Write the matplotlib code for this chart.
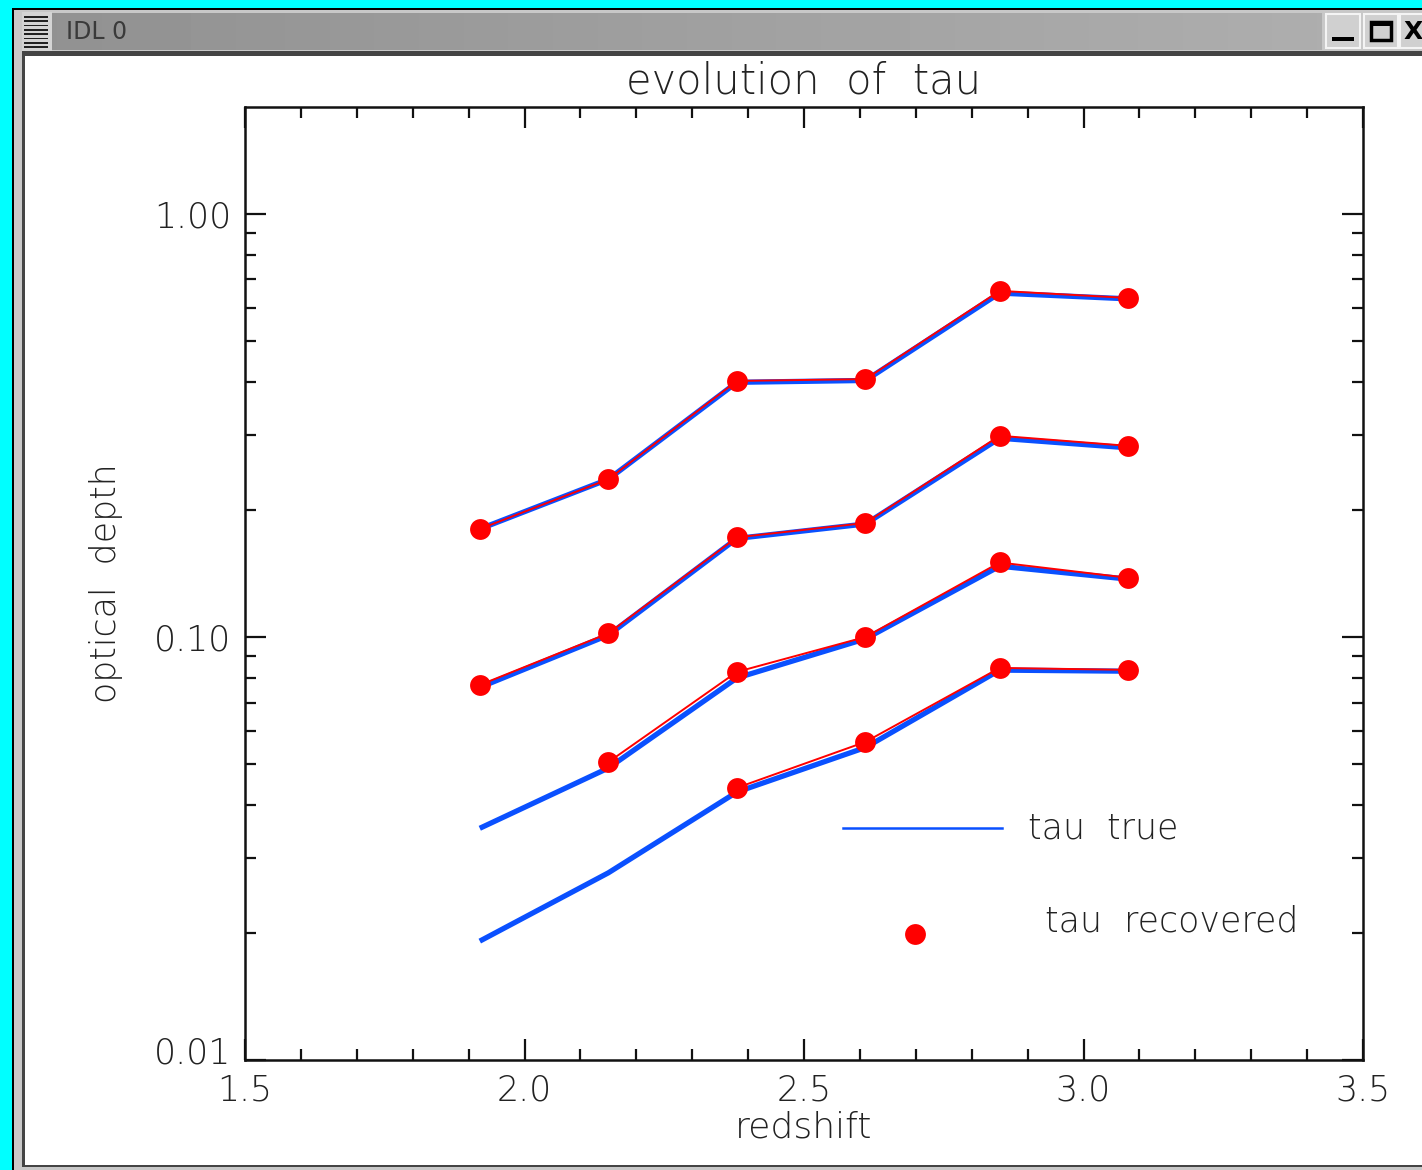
import numpy as np
import matplotlib.pyplot as plt
from matplotlib.patches import Rectangle
from matplotlib.ticker import FixedLocator, NullFormatter
from matplotlib.transforms import ScaledTranslation

# redshift bins
redshift = [1.92, 2.15, 2.38, 2.61, 2.85, 3.08]

# input optical depth per run
tau_true = [
    [0.180, 0.236, 0.400, 0.404, 0.650, 0.630],
    [0.076, 0.101, 0.171, 0.185, 0.295, 0.280],
    [0.0353, 0.0490, 0.0800, 0.0990, 0.147, 0.137],
    [0.0191, 0.0277, 0.0430, 0.0548, 0.0835, 0.0830],
]

# fitted optical depth (nan = no measurement)
tau_rec = [
    [0.180, 0.236, 0.403, 0.407, 0.658, 0.633],
    [0.077, 0.102, 0.172, 0.186, 0.299, 0.283],
    [np.nan, 0.0506, 0.0827, 0.100, 0.150, 0.138],
    [np.nan, np.nan, 0.0440, 0.0565, 0.0845, 0.0836],
]

plt.rcParams['font.family'] = ['DejaVu Sans']
plt.rcParams['font.weight'] = 'light'
plt.rcParams['axes.titleweight'] = 'light'
plt.rcParams['axes.labelweight'] = 'light'

W, H = 1422, 1170
fig = plt.figure(figsize=(W / 100, H / 100), dpi=100)
fig.patch.set_facecolor('#00ffff')

# window frame, drawn in pixel coords
bg = fig.add_axes([0, 0, 1, 1])
bg.set_xlim(0, W)
bg.set_ylim(H, 0)
bg.axis('off')

def box(x, y, w, h, fc, ec='none', lw=0, z=2):
    bg.add_patch(Rectangle((x, y), w, h, facecolor=fc, edgecolor=ec,
                           linewidth=lw, zorder=z))

box(12, 8, W - 12, H - 8, '#000000', z=1)
box(14, 10, W - 14, H - 10, '#c8c8c8', z=1.1)
# title bar
grad = np.linspace(0.57, 0.68, 256).reshape(1, -1)
bg.imshow(grad, extent=(52, 1322, 50, 13), cmap='gray', vmin=0, vmax=1,
          aspect='auto', zorder=1.5)
bg.set_xlim(0, W)
bg.set_ylim(H, 0)
box(22, 12, 30, 40, '#d4d4d4')
for k in range(8):
    box(24, 16 + k * 4.3, 24, 1.8, '#222222', z=3)
bg.text(66, 32, 'IDL 0', fontsize=17, color='#3a3a3a', va='center', ha='left',
        weight='normal', zorder=3)
box(22, 51, W - 22, 3, '#444444')
# window buttons
for bx in (1326, 1364, 1400):
    box(bx, 14, 34, 34, '#d0d0d0', '#f4f4f4', 1.5)
box(1332, 37, 22, 4, '#000000', z=3)
box(1371, 22, 20, 18, 'none', '#000000', 2.5, z=3)
box(1371, 22, 20, 4, '#000000', z=3)
bg.text(1404, 32, 'X', fontsize=18, color='#000000', va='center', ha='left',
        weight='bold', zorder=3)
# client area
box(22, 54, W - 22, 1113, '#444444')
box(25, 56, W - 25, 1109, '#ffffff')

ax = fig.add_axes([245 / W, 1 - 1060 / H, 1118 / W, 953 / H])
ax.set_facecolor('white')

for t, r in zip(tau_true, tau_rec):
    ax.plot(redshift, t, color='#0a50ff', lw=3.8, solid_capstyle='butt')
    ax.plot(redshift, r, color='#ff0000', lw=1.4, marker='o', ms=15,
            markeredgewidth=0)

ax.set_yscale('log')
ax.set_xlim(1.5, 3.5)
ax.set_ylim(0.01, 1.79)

ax.xaxis.set_major_locator(FixedLocator([1.5, 2.0, 2.5, 3.0, 3.5]))
ax.xaxis.set_minor_locator(FixedLocator(np.arange(1.6, 3.45, 0.1)))
ax.set_xticklabels(['1.5', '2.0', '2.5', '3.0', '3.5'])
ax.yaxis.set_major_locator(FixedLocator([0.01, 0.1, 1.0]))
ax.set_yticklabels(['0.01', '0.10', '1.00'])
minors = [m * d for d in (0.01, 0.1) for m in range(2, 10)]
ax.yaxis.set_minor_locator(FixedLocator(minors))
ax.yaxis.set_minor_formatter(NullFormatter())

ax.tick_params(which='both', direction='in', top=True, right=True,
               width=1.6, color='#111111', labelsize=25, labelcolor='#222222')
ax.tick_params(which='major', length=15, pad=10)
ax.tick_params(which='minor', length=8)
for s in ax.spines.values():
    s.set_linewidth(1.8)
    s.set_color('#111111')

# lowest y label sits a bit above the axis corner
low = ax.get_yticklabels()[0]
low.set_transform(low.get_transform() + ScaledTranslation(0, 10 / 100, fig.dpi_scale_trans))

ax.set_title('evolution  of  tau', fontsize=30, color='#222222', pad=10)
ax.set_xlabel('redshift', fontsize=26, color='#222222', labelpad=2)
ax.set_ylabel('optical  depth', fontsize=25, color='#222222', labelpad=22)

# legend drawn in axes units
ax.plot([0.535, 0.677], [0.2434, 0.2434], transform=ax.transAxes,
        color='#0a50ff', lw=1.8)
ax.text(0.700, 0.2434, 'tau  true', transform=ax.transAxes, fontsize=25,
        color='#222222', va='center')
ax.plot([0.599], [0.132], transform=ax.transAxes, marker='o', ms=15,
        color='#ff0000', markeredgewidth=0)
ax.text(0.716, 0.145, 'tau  recovered', transform=ax.transAxes, fontsize=25,
        color='#222222', va='center')

fig.savefig('out.png', dpi=100, facecolor=fig.get_facecolor())
